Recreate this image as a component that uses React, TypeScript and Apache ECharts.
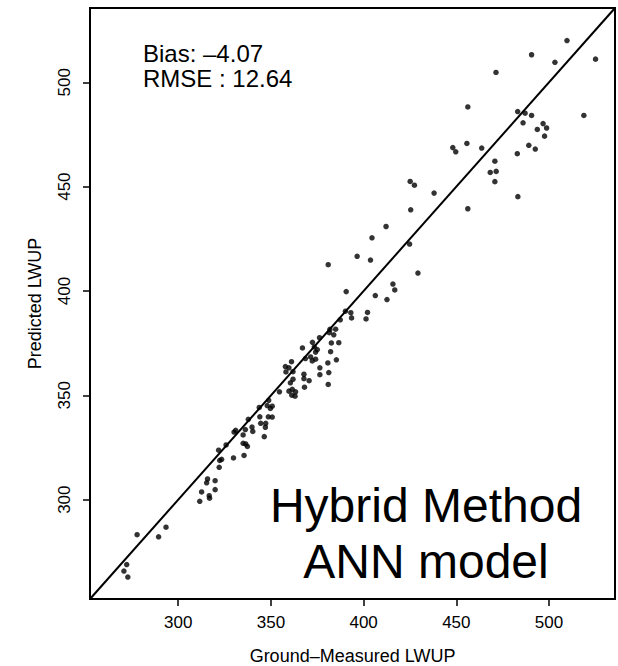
import React, { useEffect, useRef } from "react";
import * as echarts from "echarts";

// Ground-measured LWUP (x) and predicted LWUP (y)
const xValues = [
  272.2, 270.7, 272.8, 277.8, 289.4, 293.4, 312.6, 311.6, 315.8, 315.3,
  316.7, 316.9, 319.9, 319.9, 321.8, 322.1, 322.4, 323.4, 325.8, 329.8,
  330.1, 331.0, 335.0, 335.0, 336.4, 337.3, 335.5, 336.2, 337.8, 339.8,
  340.2, 343.7, 344.0, 344.5, 346.4, 347.2, 347.0, 348.6, 350.7, 348.0,
  350.7, 349.7, 348.8, 354.6, 359.7, 361.5, 363.3, 363.0, 361.2, 368.1,
  361.9, 360.5, 361.1, 357.8, 359.7, 358.1, 361.9, 367.0, 367.8, 367.8,
  370.6, 368.6, 371.4, 372.3, 374.1, 372.4, 373.4, 374.1, 375.0, 376.2,
  376.4, 376.4, 380.7, 381.2, 380.9, 382.2, 382.6, 386.6, 381.8, 384.9,
  381.5, 383.9, 385.3, 387.4, 390.2, 393.1, 393.5, 390.6, 396.5, 401.3,
  402.1, 403.7, 404.5, 406.3, 412.1, 412.6, 415.8, 416.8, 424.8, 429.3,
  380.9, 425.1, 427.4, 425.4, 438.0, 448.1, 449.7, 455.7, 456.2, 456.2,
  463.7, 468.3, 471.5, 470.8, 470.8, 471.4, 482.9, 483.2, 483.1, 487.1,
  490.6, 486.0, 489.1, 492.6, 490.6, 493.7, 496.8, 498.7, 497.6, 503.2,
  509.7, 518.8, 525.1,
];
const yValues = [
  268.9, 265.8, 262.9, 283.2, 282.2, 286.8, 303.7, 299.2, 309.9, 308.1,
  301.9, 300.7, 309.1, 304.8, 323.7, 315.5, 318.8, 319.3, 326.2, 320.0,
  332.4, 333.2, 331.0, 327.0, 326.7, 325.5, 321.2, 333.6, 338.5, 334.8,
  332.7, 344.2, 339.7, 336.6, 330.2, 336.6, 334.7, 339.7, 339.6, 345.1,
  344.8, 343.7, 347.6, 351.7, 352.0, 352.9, 351.7, 349.6, 350.1, 353.9,
  357.7, 356.0, 366.1, 363.8, 363.2, 361.2, 361.3, 372.7, 360.1, 358.0,
  357.0, 367.6, 368.4, 366.5, 367.3, 375.4, 373.2, 370.7, 371.9, 377.6,
  363.2, 359.9, 365.5, 360.9, 355.2, 370.9, 375.1, 375.2, 381.6, 381.7,
  380.0, 379.0, 367.0, 386.2, 390.3, 389.6, 387.1, 399.7, 416.6, 386.6,
  389.7, 414.8, 425.5, 397.8, 430.9, 395.9, 403.3, 400.5, 422.5, 408.6,
  412.6, 452.5, 450.7, 438.9, 446.9, 468.7, 466.7, 470.7, 439.4, 488.2,
  468.5, 456.8, 457.3, 452.4, 462.2, 504.7, 465.8, 445.2, 486.0, 485.2,
  484.1, 480.6, 469.8, 468.0, 513.2, 477.4, 480.2, 478.1, 474.2, 509.6,
  520.0, 484.1, 511.1,
];

const tickValues = [300, 350, 400, 450, 500];
const axisMin = 252.4;
const axisMax = 535.6;
const identityLine = [axisMin, axisMax];
const statsLines = ["Bias: \u20134.07", "RMSE : 12.64"];
const modelLines = ["Hybrid Method", "ANN model"];
const xTitle = "Ground\u2013Measured LWUP";
const yTitle = "Predicted LWUP";

const FONT = "'Liberation Sans', Arial, Helvetica, sans-serif";

export default function App() {
  const ref = useRef<HTMLDivElement>(null);

  useEffect(() => {
    if (!ref.current) return;
    const chart = echarts.init(ref.current, undefined, { renderer: "svg" });
    const points = xValues.map((x, i) => [x, yValues[i]]);
    const axisCommon = {
      type: "value" as const,
      min: axisMin,
      max: axisMax,
      splitLine: { show: false },
      axisLine: { show: true, onZero: false, lineStyle: { color: "#000", width: 2 } },
      axisTick: {
        show: true,
        customValues: tickValues,
        length: 7,
        lineStyle: { color: "#000", width: 1.5 },
      },
      nameLocation: "middle" as const,
      nameTextStyle: { fontSize: 18, color: "#000", fontFamily: FONT },
    };
    chart.setOption({
      animation: false,
      backgroundColor: "#fff",
      grid: {
        left: 90,
        right: 3,
        top: 8,
        bottom: 67,
        show: true,
        borderColor: "#000",
        borderWidth: 2,
        backgroundColor: "transparent",
        containLabel: false,
        outerBoundsMode: "none",
      },
      xAxis: {
        ...axisCommon,
        name: xTitle,
        nameGap: 48,
        axisLabel: {
          customValues: tickValues,
          fontSize: 17,
          color: "#000",
          fontFamily: FONT,
          margin: 15,
        },
      },
      yAxis: {
        ...axisCommon,
        name: yTitle,
        nameGap: 46,
        nameRotate: 90,
        axisLabel: {
          customValues: tickValues,
          fontSize: 17,
          color: "#000",
          fontFamily: FONT,
          margin: 17,
          rotate: 90,
        },
      },
      series: [
        {
          type: "line",
          data: identityLine.map((v) => [v, v]),
          symbol: "none",
          lineStyle: { color: "#000", width: 2 },
          silent: true,
          z: 1,
        },
        {
          type: "scatter",
          data: points,
          symbol: "circle",
          symbolSize: 5.5,
          itemStyle: { color: "#000" },
          z: 2,
        },
      ],
      graphic: [
        ...statsLines.map((t, i) => ({
          type: "text",
          left: 143,
          top: 41 + i * 25,
          style: { text: t, font: `24px ${FONT}`, fill: "#000" },
        })),
        ...modelLines.map((t, i) => ({
          type: "text",
          x: 426,
          y: 505 + i * 56.5,
          style: {
            text: t,
            font: `48px ${FONT}`,
            fill: "#000",
            align: "center",
            verticalAlign: "middle",
          },
        })),
      ],
    });
    return () => chart.dispose();
  }, []);

  return (
    <div
      ref={ref}
      style={{ position: "fixed", left: 0, top: 0, width: 618, height: 666 }}
    />
  );
}
